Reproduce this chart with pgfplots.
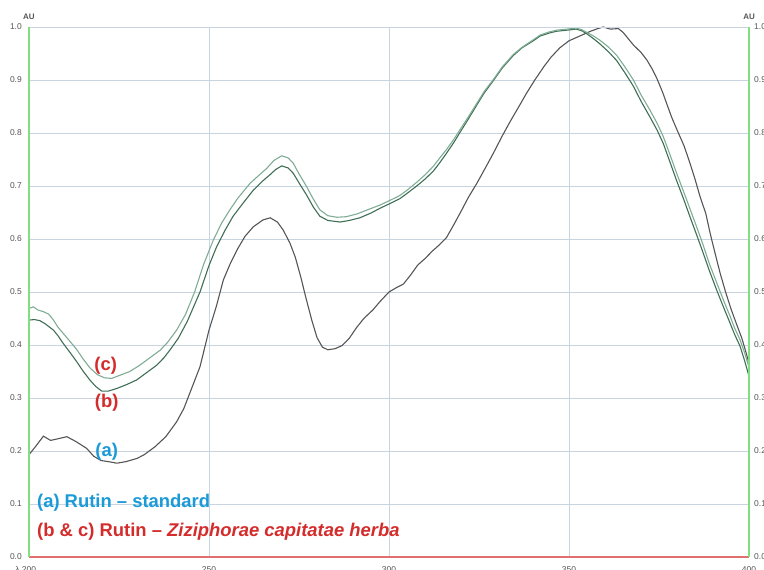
\documentclass[border=0pt]{standalone}
\usepackage{pgfplots}
\pgfplotsset{compat=1.18}
\usepackage{fontspec}
\setmainfont{Liberation Sans}
\definecolor{gridc}{HTML}{C8D4E0}
\definecolor{axgreen}{HTML}{80E080}
\definecolor{axred}{HTML}{E07070}
\definecolor{ca}{HTML}{555555}
\definecolor{cb}{HTML}{3F6E55}
\definecolor{cc}{HTML}{7FAC94}
\definecolor{tblue}{HTML}{1A9AD6}
\definecolor{tred}{HTML}{D42B2B}
\definecolor{tickc}{HTML}{555555}
\begin{document}
\begin{tikzpicture}
\path[use as bounding box] (-29bp,-13bp) rectangle (735bp,557bp);
\begin{axis}[
  at={(0,0)}, anchor=south west,
  scale only axis, width=720bp, height=530bp,
  xmin=200, xmax=400, ymin=0, ymax=1,
  xtick={200,250,300,350,400},
  xticklabels={\llap{λ }200,250,300,350,400},
  ytick={0,0.1,...,1.0},
  yticklabel={\pgfmathprintnumber[fixed,fixed zerofill,precision=1]{\tick}},
  /pgf/number format/assume math mode=true,
  major tick length=0pt,
  grid=major,
  major grid style={gridc, line width=0.9bp},
  axis line style={draw=none},
  tick label style={font=\fontsize{8.5}{9}\selectfont, text=tickc},
  xticklabel style={anchor=north, yshift=-9bp, inner sep=0pt},
  yticklabel style={anchor=east, xshift=-7bp, inner sep=0pt},
  clip=true,
]
\addplot[ca, line width=1.1bp] coordinates {
(200,0.193)(202,0.210)(204,0.228)(206,0.220)(208,0.223)(210.5,0.227)(213,0.218)(216,0.205)(218,0.190)(220,0.182)(222,0.180)(224.4,0.177)(227,0.180)(230,0.186)(232,0.193)(235,0.208)(238,0.227)(241,0.255)(243,0.280)(245,0.315)(247.5,0.359)(250,0.428)(252,0.472)(254,0.523)(256,0.555)(258,0.582)(260,0.605)(262.3,0.623)(265,0.636)(267,0.640)(269,0.632)(270.6,0.617)(272.5,0.592)(274,0.565)(275.5,0.528)(277,0.487)(278.5,0.448)(280,0.414)(281.5,0.396)(283,0.391)(285,0.393)(287,0.399)(289,0.413)(291,0.433)(293,0.450)(295.5,0.466)(297.5,0.482)(300,0.500)(302,0.508)(304,0.515)(306,0.532)(308,0.551)(310,0.563)(312,0.577)(314,0.589)(316,0.603)(318,0.627)(320,0.652)(322,0.678)(324.4,0.705)(327,0.737)(329,0.762)(331.5,0.795)(333.6,0.821)(336,0.849)(338.2,0.875)(340.5,0.900)(343,0.925)(345,0.943)(347.5,0.961)(350,0.974)(352,0.980)(354,0.986)(356,0.992)(358,0.997)(359.5,1.000)(361.5,0.996)(363.7,0.997)(365,0.990)(367.9,0.966)(370,0.952)(371.6,0.938)(373,0.922)(374.4,0.903)(376,0.877)(377.1,0.856)(378.5,0.830)(380,0.806)(382,0.775)(383.6,0.743)(385,0.713)(386.4,0.680)(388,0.648)(389.2,0.611)(390.5,0.575)(392,0.535)(393.5,0.500)(395,0.468)(396.5,0.440)(398,0.413)(399,0.390)(400,0.365)
};
\addplot[cb, line width=1.1bp] coordinates {
(200,0.447)(201.5,0.448)(203,0.446)(204.5,0.440)(206.8,0.428)(208,0.418)(209.5,0.403)(211.5,0.385)(213.2,0.369)(215,0.351)(216.9,0.334)(218.5,0.322)(220.2,0.313)(222,0.313)(224.4,0.318)(227,0.325)(229.9,0.334)(232.5,0.347)(235.5,0.362)(237.5,0.376)(239.2,0.391)(241.5,0.413)(244,0.445)(247.5,0.500)(250,0.550)(252.1,0.585)(254.5,0.617)(256.7,0.643)(259.5,0.668)(262.3,0.692)(265,0.710)(266.9,0.721)(268.5,0.731)(270.2,0.738)(272,0.734)(273.4,0.724)(275,0.706)(277.1,0.683)(279,0.660)(280.8,0.643)(283,0.635)(286.4,0.632)(289,0.635)(291.9,0.640)(295,0.649)(297.5,0.658)(300,0.666)(303,0.676)(305,0.686)(307.7,0.700)(310,0.713)(312.3,0.728)(314,0.743)(316,0.762)(318,0.782)(319.7,0.801)(322,0.826)(324.4,0.853)(326.5,0.876)(329,0.899)(331.5,0.923)(334.5,0.946)(337,0.961)(340.1,0.974)(342,0.983)(344.7,0.989)(346.6,0.992)(349.4,0.994)(352,0.996)(353.5,0.993)(355,0.987)(356.8,0.978)(358.6,0.968)(361,0.953)(363.2,0.937)(365.5,0.914)(367.9,0.888)(370,0.860)(372.5,0.830)(374.5,0.805)(376.2,0.780)(378,0.746)(379.9,0.710)(381.8,0.676)(383.6,0.642)(385.5,0.607)(387.3,0.573)(389,0.540)(391,0.504)(393,0.470)(394.7,0.442)(396,0.420)(397.5,0.398)(398.8,0.370)(400,0.341)
};
\addplot[cc, line width=1.1bp] coordinates {
(200,0.469)(201.2,0.472)(202.5,0.466)(204,0.463)(205.5,0.458)(206.8,0.447)(208,0.434)(209.5,0.422)(211,0.410)(213.2,0.392)(215,0.374)(216.9,0.357)(219,0.344)(221,0.338)(223,0.337)(225.3,0.343)(228,0.350)(230.8,0.362)(233,0.373)(236.4,0.390)(238.5,0.405)(241,0.428)(243.5,0.458)(246,0.500)(248.5,0.552)(251.2,0.598)(253.5,0.630)(255.8,0.655)(258,0.677)(261.4,0.705)(264,0.721)(266,0.733)(268,0.748)(270.2,0.757)(272,0.753)(273.4,0.743)(275,0.723)(277.1,0.699)(279,0.675)(280.8,0.655)(283,0.644)(285.5,0.641)(288,0.642)(291,0.647)(294,0.655)(297.5,0.664)(300,0.672)(303,0.682)(305,0.692)(307.7,0.707)(310,0.721)(312.3,0.737)(314,0.752)(316,0.769)(318,0.788)(319.7,0.806)(322,0.830)(324.4,0.856)(326.5,0.879)(329,0.901)(331.5,0.925)(334.5,0.948)(337,0.962)(340.1,0.976)(342,0.985)(344.7,0.991)(346.6,0.994)(349.4,0.996)(352,0.998)(353.5,0.995)(354.9,0.990)(356.8,0.983)(358.6,0.975)(361,0.962)(363.2,0.947)(365.5,0.925)(367.9,0.900)(370,0.872)(372.5,0.843)(374.5,0.818)(376.2,0.793)(378,0.760)(379.9,0.724)(381.8,0.690)(383.6,0.657)(385.5,0.622)(387.3,0.588)(389,0.553)(391,0.518)(393,0.483)(394.7,0.455)(396,0.432)(397.5,0.410)(398.8,0.385)(400,0.358)
};
\end{axis}
\begin{axis}[
  at={(0,0)}, anchor=south west,
  scale only axis, width=720bp, height=530bp,
  xmin=200, xmax=400, ymin=0, ymax=1,
  xtick=\empty,
  ytick={0,0.1,...,1.0},
  yticklabel pos=right,
  yticklabel={\pgfmathprintnumber[fixed,fixed zerofill,precision=1]{\tick}},
  /pgf/number format/assume math mode=true,
  major tick length=0pt,
  axis line style={draw=none},
  tick label style={font=\fontsize{8.5}{9}\selectfont, text=tickc},
  yticklabel style={anchor=west, xshift=5bp, inner sep=0pt},
  clip=false,
]
\draw[gridc, line width=0.9bp] (axis cs:200,1) -- (axis cs:400,1);
\draw[axred, line width=1.8bp] (axis cs:200,0) -- (axis cs:400,0);
\draw[axgreen, line width=1.8bp] (axis cs:200,0) -- (axis cs:200,1);
\draw[axgreen, line width=1.8bp] (axis cs:400,0) -- (axis cs:400,1);
\node[font=\fontsize{8}{9}\selectfont\bfseries, text=tickc, anchor=south, inner sep=0pt] at (axis cs:200,1) [yshift=7bp] {AU};
\node[font=\fontsize{8}{9}\selectfont\bfseries, text=tickc, anchor=south, inner sep=0pt] at (axis cs:400,1) [yshift=7bp] {AU};
\node[font=\fontsize{18.5}{20}\selectfont\bfseries, text=tred] at (axis cs:221.3,0.360) {(c)};
\node[font=\fontsize{18.5}{20}\selectfont\bfseries, text=tred] at (axis cs:221.6,0.292) {(b)};
\node[font=\fontsize{18.5}{20}\selectfont\bfseries, text=tblue] at (axis cs:221.6,0.199) {(a)};
\node[font=\fontsize{18.5}{20}\selectfont\bfseries, text=tblue, anchor=west, inner sep=0pt] at (axis cs:202.2,0.102) {(a) Rutin – standard};
\node[font=\fontsize{18.5}{20}\selectfont\bfseries, text=tred, anchor=west, inner sep=0pt] at (axis cs:202.2,0.047) {(b \& c) Rutin – \textit{Ziziphorae capitatae herba}};
\end{axis}
\end{tikzpicture}
\end{document}
